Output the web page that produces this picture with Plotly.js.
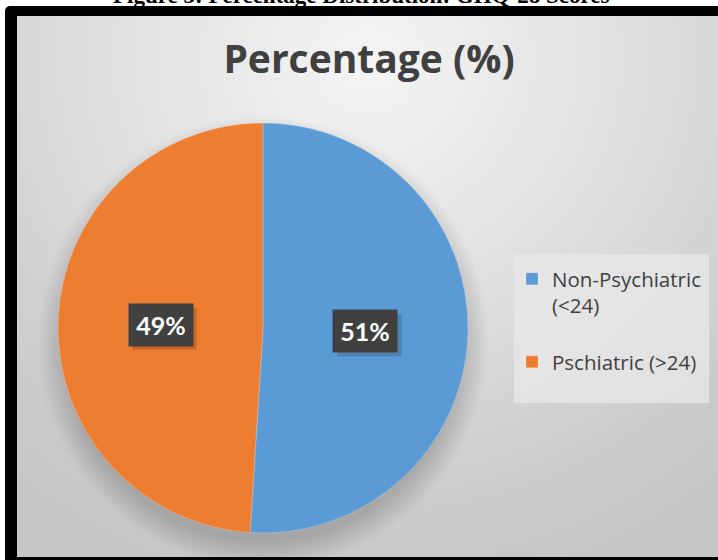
<!DOCTYPE html>
<html>
<head>
<meta charset="utf-8">
<script src="https://cdn.plot.ly/plotly-3.0.1.min.js"></script>
<style>
  html, body { margin: 0; padding: 0; background: #ffffff; }
  #wrap { position: relative; width: 718px; height: 560px; overflow: hidden; background: #ffffff; }
  #frame { position: absolute; left: 5px; top: 6px; width: 713px; height: 554px; background: #000000; border-top-left-radius: 5px; }
  #bg { position: absolute; left: 17px; top: 16px; width: 701px; height: 541px;
        background:
          radial-gradient(circle at 246px 326px, rgba(0,0,0,0.18) 198px, rgba(0,0,0,0) 226px),
          radial-gradient(ellipse 80% 100% at 50% 8%, #f4f4f4 0%, #e0e0e0 45%, #cbcbcb 85%, #c6c6c6 100%); }
  #chart { position: absolute; left: 0; top: 0; width: 718px; height: 560px; }
</style>
</head>
<body>
<div id="wrap">
  <div id="frame"></div>
  <div id="bg"></div>
  <div id="chart"></div>
</div>
<script>
// ---- data ----
const categories = ['Non-Psychiatric (<24)', 'Pschiatric (>24)'];
const values = [51, 49];
const sliceColors = ['#5B9BD5', '#ED7D31'];
const chartTitle = 'Percentage (%)';
const caption = 'Figure 3: Percentage Distribution: GHQ-28 Scores';

// ---- layout constants ----
const W = 718, H = 560;
const pieLeft = 58, pieRight = 468, pieTop = 123, pieBottom = 533;
const cx = (pieLeft + pieRight) / 2, cy = (pieTop + pieBottom) / 2;
const r = (pieRight - pieLeft) / 2;
const boxW = 64, boxH = 42;

function esc(s) { return s.replace(/&/g, '&amp;').replace(/</g, '&lt;').replace(/>/g, '&gt;'); }
// legend display text: wrap first label like the reference, pad to mimic spacing
const legendLabels = categories.map((c, i) => {
  const e = esc(c);
  if (i === 0) return e.replace(' (', '<br>(') + '<br> ';
  return e;
});

const trace = {
  type: 'pie',
  labels: legendLabels,
  values: values,
  sort: false,
  direction: 'clockwise',
  rotation: 0,
  marker: { colors: sliceColors, line: { color: 'rgba(255,255,255,0.35)', width: 0.6 } },
  textinfo: 'none',
  hoverinfo: 'none',
  domain: { x: [pieLeft / W, pieRight / W], y: [1 - pieBottom / H, 1 - pieTop / H] }
};

// data labels positioned at half radius along each slice's mid angle
const total = values.reduce((a, b) => a + b, 0);
const annotations = [];
const shapes = [{
  type: 'rect', xref: 'paper', yref: 'paper', layer: 'below',
  x0: 514 / W, x1: 709 / W, y0: 1 - 403 / H, y1: 1 - 254 / H,
  fillcolor: 'rgba(232,232,232,0.75)', line: { width: 0 }
}];
let cum = 0;
values.forEach((v, i) => {
  const mid = 2 * Math.PI * (cum + v / 2) / total;
  cum += v;
  const px = cx + 0.5 * r * Math.sin(mid);
  const py = cy - 0.5 * r * Math.cos(mid);
  const pct = Math.round(100 * v / total) + '%';
  // soft shadow behind the label box
  shapes.push({
    type: 'rect', xref: 'paper', yref: 'paper', layer: 'above',
    x0: (px - boxW / 2 + 4) / W, x1: (px + boxW / 2 + 4) / W,
    y0: 1 - (py + boxH / 2 + 4) / H, y1: 1 - (py - boxH / 2 + 4) / H,
    fillcolor: 'rgba(0,0,0,0.16)', line: { width: 0 }
  });
  annotations.push({
    xref: 'paper', yref: 'paper', x: px / W, y: 1 - py / H,
    xanchor: 'center', yanchor: 'middle',
    text: '<b>' + pct + '</b>', showarrow: false, width: 50, height: 28, borderpad: 7,
    bgcolor: '#404040', font: { family: 'Lato', size: 25, color: '#ffffff' }
  });
});

// caption (cut off at the top edge as in the reference)
annotations.push({
  xref: 'paper', yref: 'paper', x: 361 / W, y: 1 - 10 / H, xanchor: 'center', yanchor: 'bottom',
  text: '<b>' + caption + '</b>', showarrow: false,
  font: { family: 'Liberation Serif', size: 23, color: '#000000' }
});

const layout = {
  width: W, height: H,
  margin: { l: 0, r: 0, t: 0, b: 0 },
  paper_bgcolor: 'rgba(0,0,0,0)',
  plot_bgcolor: 'rgba(0,0,0,0)',
  title: {
    text: '<b>' + chartTitle + '</b>',
    font: { family: 'Open Sans', size: 39, color: '#404040' },
    x: 369 / W, xanchor: 'center', xref: 'paper',
    y: 1 - 59 / H, yanchor: 'middle', yref: 'paper'
  },
  showlegend: true,
  legend: {
    x: 512 / W, y: 1 - 259 / H, xanchor: 'left', yanchor: 'top',
    bgcolor: 'rgba(0,0,0,0)', borderwidth: 0, valign: 'top',
    font: { family: 'Open Sans', size: 20.5, color: '#404040' },
    traceorder: 'normal'
  },
  shapes: shapes,
  annotations: annotations
};

Plotly.newPlot('chart', [trace], layout, { displayModeBar: false, staticPlot: true });
</script>
</body>
</html>
